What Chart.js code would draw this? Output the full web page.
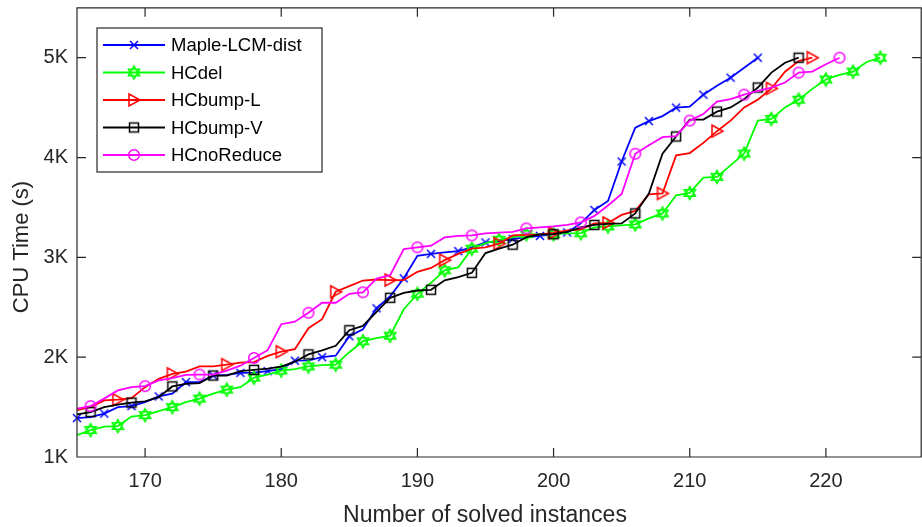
<!DOCTYPE html>
<html>
<head>
<meta charset="utf-8">
<script src="https://cdn.jsdelivr.net/npm/chart.js@4.4.1/dist/chart.umd.min.js"></script>
<style>
  html, body { margin: 0; padding: 0; background: #fff; overflow: hidden; }
  #wrap { position: relative; width: 922px; height: 527px; overflow: hidden; }
</style>
</head>
<body>
<div id="wrap"><canvas id="cpuChart" width="929" height="527"></canvas></div>
<script>
// number of solved instances starts at 165 for every solver
const firstSolved = 165;

const seriesNames = ["Maple-LCM-dist", "HCdel", "HCbump-L", "HCbump-V", "HCnoReduce"];

// CPU time (s) for 165, 166, 167 ... solved instances
const mapleLcmDist = [1390, 1400, 1435, 1500, 1510, 1550, 1607, 1635, 1750, 1750,
  1816, 1823, 1843, 1845, 1860, 1880, 1965, 1968, 2000, 2015,
  2210, 2280, 2490, 2610, 2790, 3015, 3035, 3050, 3062, 3100,
  3150, 3160, 3185, 3200, 3215, 3230, 3250, 3340, 3475, 3565,
  3960, 4300, 4365, 4415, 4500, 4510, 4630, 4720, 4800, 4900, 5000];
const hcDel = [1220, 1270, 1305, 1310, 1405, 1420, 1460, 1500, 1550, 1585,
  1635, 1675, 1700, 1795, 1825, 1866, 1880, 1907, 1920, 1925,
  2050, 2160, 2190, 2215, 2480, 2635, 2745, 2870, 2900, 3087,
  3143, 3176, 3200, 3232, 3230, 3232, 3240, 3242, 3300, 3310,
  3320, 3330, 3390, 3440, 3622, 3645, 3798, 3806, 3922, 4040,
  4370, 4387, 4502, 4580, 4688, 4782, 4828, 4861, 4957, 5000];
const hcBumpL = [1470, 1500, 1567, 1574, 1590, 1700, 1783, 1833, 1856, 1908,
  1908, 1925, 1945, 1950, 2013, 2055, 2080, 2290, 2380, 2655,
  2712, 2768, 2778, 2772, 2772, 2855, 2894, 2972, 3035, 3087,
  3100, 3137, 3220, 3225, 3230, 3245, 3270, 3280, 3340, 3345,
  3425, 3465, 3630, 3640, 4022, 4045, 4147, 4264, 4370, 4502,
  4580, 4692, 4860, 4967, 5000];
const hcBumpV = [1428, 1450, 1500, 1525, 1545, 1557, 1600, 1707, 1733, 1740,
  1816, 1816, 1860, 1873, 1885, 1905, 1955, 2028, 2068, 2114,
  2270, 2313, 2455, 2595, 2645, 2668, 2675, 2770, 2801, 2845,
  3043, 3087, 3127, 3203, 3230, 3232, 3255, 3300, 3325, 3335,
  3340, 3440, 3640, 4038, 4211, 4380, 4380, 4460, 4502, 4585,
  4701, 4851, 4950, 5000];
const hcNoReduce = [1485, 1510, 1585, 1667, 1700, 1710, 1767, 1790, 1823, 1826,
  1826, 1866, 1915, 1992, 2070, 2330, 2356, 2445, 2545, 2545,
  2635, 2650, 2788, 2821, 3083, 3100, 3117, 3200, 3215, 3220,
  3240, 3247, 3255, 3290, 3300, 3310, 3325, 3350, 3415, 3520,
  3635, 4038, 4122, 4204, 4215, 4370, 4436, 4560, 4585, 4630,
  4668, 4700, 4751, 4851, 4861, 4934, 5000];

const xTicks = [170, 180, 190, 200, 210, 220];
const yTicks = [1000, 2000, 3000, 4000, 5000];
const xTitle = "Number of solved instances";
const yTitle = "CPU Time (s)";

// where the markers sit (matlab style, not on every point)
const markerAt = [
  x => (x - 165) % 2 === 0,
  x => (x - 166) % 2 === 0,
  x => (x - 168) % 4 === 0 || x === 219,
  x => [166, 169, 172, 175, 178, 182, 185, 188, 191, 194, 197, 200, 203, 206, 209, 212, 215, 218].includes(x),
  x => (x - 166) % 4 === 0 || x === 221,
];

const colors = ["#0000ff", "#00ff00", "#ff0000", "#000000", "#ff00ff"];
const axisColor = "#262626";
const fontFamily = "'Liberation Sans', Arial, Helvetica, sans-serif";

function makeMarker(kind, color) {
  const c = document.createElement("canvas");
  c.width = 18; c.height = 18;
  const g = c.getContext("2d");
  g.strokeStyle = color;
  g.lineWidth = 1.5;
  g.translate(9, 9);
  g.beginPath();
  if (kind === "x") {
    g.moveTo(-4, -4); g.lineTo(4, 4);
    g.moveTo(4, -4); g.lineTo(-4, 4);
  } else if (kind === "hex") {
    for (const start of [-90, 90]) {
      for (let k = 0; k < 3; k++) {
        const a = (start + k * 120) * Math.PI / 180;
        const px = 6.5 * Math.cos(a), py = 6.5 * Math.sin(a);
        if (k === 0) g.moveTo(px, py); else g.lineTo(px, py);
      }
      g.closePath();
    }
  } else if (kind === "tri") {
    g.moveTo(-5, -6); g.lineTo(6, 0); g.lineTo(-5, 6); g.closePath();
  } else if (kind === "sq") {
    g.rect(-4.5, -4.5, 9, 9);
  } else {
    g.arc(0, 0, 5.3, 0, Math.PI * 2);
  }
  g.stroke();
  return c;
}

const markerImgs = ["x", "hex", "tri", "sq", "circ"].map((k, i) => makeMarker(k, colors[i]));
const allSeries = [mapleLcmDist, hcDel, hcBumpL, hcBumpV, hcNoReduce];

const datasets = allSeries.map((vals, i) => ({
  label: seriesNames[i],
  data: vals.map((v, j) => ({ x: firstSolved + j, y: v })),
  borderColor: colors[i],
  backgroundColor: colors[i],
  borderWidth: 1.8,
  tension: 0,
  clip: false,
  order: 5 - i,
  pointStyle: markerImgs[i],
  pointRadius: ctx => (ctx.raw && markerAt[i](ctx.raw.x) ? 6 : 0),
  pointHoverRadius: 0,
}));

// box + inward ticks like matlab, plus the two axis titles
const axesBox = {
  id: "axesBox",
  afterDraw(chart) {
    const { ctx, chartArea: a, scales: { x, y } } = chart;
    ctx.save();
    ctx.strokeStyle = axisColor;
    ctx.lineWidth = 1.2;
    ctx.beginPath();
    ctx.rect(a.left, a.top, a.right - a.left, a.bottom - a.top);
    xTicks.forEach(v => {
      const px = x.getPixelForValue(v);
      ctx.moveTo(px, a.bottom); ctx.lineTo(px, a.bottom - 9);
      ctx.moveTo(px, a.top); ctx.lineTo(px, a.top + 9);
    });
    yTicks.forEach(v => {
      const py = y.getPixelForValue(v);
      ctx.moveTo(a.left, py); ctx.lineTo(a.left + 9, py);
      ctx.moveTo(a.right, py); ctx.lineTo(a.right - 9, py);
    });
    ctx.stroke();

    ctx.fillStyle = axisColor;
    ctx.textAlign = "center";
    ctx.textBaseline = "alphabetic";
    ctx.font = "23px " + fontFamily;
    ctx.fillText(xTitle, 485, 522);
    ctx.translate(28, 247);
    ctx.rotate(-Math.PI / 2);
    ctx.font = "22px " + fontFamily;
    ctx.fillText(yTitle, 0, 0);
    ctx.restore();
  }
};

const legendBox = {
  id: "legendBox",
  afterDraw(chart) {
    const ctx = chart.ctx;
    ctx.save();
    ctx.fillStyle = "#fff";
    ctx.fillRect(97, 28, 225, 144);
    ctx.strokeStyle = axisColor;
    ctx.lineWidth = 1.2;
    ctx.strokeRect(97, 28, 225, 144);
    ctx.font = "18.5px " + fontFamily;
    ctx.textBaseline = "middle";
    ctx.fillStyle = "#000";
    chart.data.datasets.forEach((ds, i) => {
      const yy = 45 + i * 27.5;
      ctx.strokeStyle = ds.borderColor;
      ctx.lineWidth = ds.borderWidth;
      ctx.beginPath();
      ctx.moveTo(103, yy); ctx.lineTo(165, yy);
      ctx.stroke();
      ctx.drawImage(markerImgs[i], 134 - 9, yy - 9);
      ctx.fillText(ds.label, 171, yy + 1);
    });
    ctx.restore();
  }
};

new Chart(document.getElementById("cpuChart"), {
  type: "line",
  data: { datasets },
  options: {
    responsive: false,
    animation: false,
    devicePixelRatio: 1,
    layout: { padding: { top: 5, right: 0, left: 0, bottom: 0 } },
    plugins: { legend: { display: false }, tooltip: { enabled: false } },
    scales: {
      x: {
        type: "linear",
        min: 165,
        max: 227,
        grid: { display: false, drawTicks: false },
        border: { display: false },
        afterBuildTicks: s => { s.ticks = xTicks.map(v => ({ value: v })); },
        afterFit: s => { s.height = 70; s.paddingLeft = 0; s.paddingRight = 0; },
        ticks: { color: axisColor, padding: 12, font: { family: fontFamily, size: 20 } }
      },
      y: {
        min: 1000,
        max: 5500,
        grid: { display: false, drawTicks: false },
        border: { display: false },
        afterBuildTicks: s => { s.ticks = yTicks.map(v => ({ value: v })); },
        afterFit: s => { s.width = 77; s.paddingTop = 0; s.paddingBottom = 0; },
        ticks: {
          color: axisColor,
          padding: 9,
          font: { family: fontFamily, size: 20 },
          callback: v => v / 1000 + "K"
        }
      }
    }
  },
  plugins: [axesBox, legendBox]
});
</script>
</body>
</html>
